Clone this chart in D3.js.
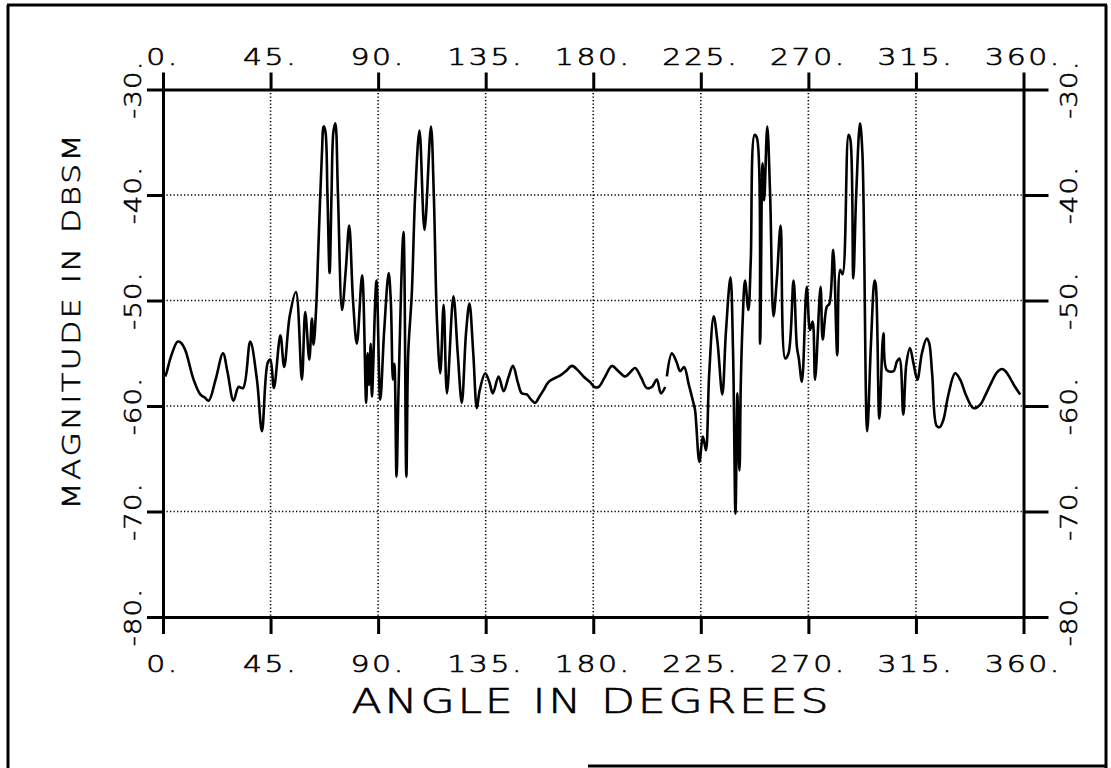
<!DOCTYPE html>
<html>
<head>
<meta charset="utf-8">
<script src="https://cdn.jsdelivr.net/npm/d3@7"></script>
<style>
  body { margin: 0; background: #fff; }
  svg text { font-family: "DejaVu Sans", sans-serif; font-weight: 200; fill: #000; stroke: #000; stroke-width: 0.6px; }
</style>
</head>
<body>
<svg id="chart" width="1111" height="768"></svg>
<script>
// angle ticks and magnitude ticks
var angleTicks = [0, 45, 90, 135, 180, 225, 270, 315, 360];
var dbTicks = [-30, -40, -50, -60, -70, -80];

// first trace (0 .. 210 deg)
var angle1 = [0.9, 1.4, 3.5, 6.1, 7.5, 9.3, 12.8, 15.6, 17.5, 19.1, 22, 25.1, 27, 29.5, 31.6, 33.5, 36.5, 39.3, 41.4,
  43.8, 44.9, 46.4, 49.1, 50.7, 53, 55.6, 58.1, 59.5, 61.2, 62.3, 63.0, 64.1, 65, 66.5, 67.2, 67.9, 68.8, 69.7,
  70.5, 71.3, 72.1, 73.2, 74.9, 76.5, 77.9, 79.5, 81.1, 83.3, 85.0, 85.6, 86.2, 86.9, 87.4, 89.3, 90.9, 92.5,
  94.4, 95.3, 96.2, 96.8, 97.7, 98.5, 100.6, 101.8, 102.6, 104.1, 105.5, 107.3, 109.4, 112.1, 113.3, 114.6,
  116.0, 117.4, 118.8, 121.5, 123.3, 125.0, 126.8, 128.2, 129.8, 131.3, 132.5, 134.8, 136.5, 138.0, 140.4,
  142.5, 144.5, 146.4, 148.5, 150.1, 152.2, 154, 155.7, 157.5, 159.2, 161, 162.7, 164.5, 166.2, 168.5, 171.1,
  173.5, 175.9, 178.5, 180.5, 182.2, 185, 187.8, 190.5, 193.4, 195.5, 197.5, 200, 202.4, 204.5, 206.6, 208.3, 210.1];
var db1 = [-57.2, -56.9, -55.2, -53.9, -54.0, -54.7, -57.5, -58.9, -59.2, -59.5, -57.5, -55.0, -56.8, -59.5, -58.2, -58.3, -53.9, -57.5, -62.4,
  -55.9, -55.6, -58.3, -53.3, -56.3, -51.5, -49.2, -57.5, -51.1, -55.6, -51.7, -54.2, -50.6, -45, -36, -33.5, -33.9, -40, -47.4,
  -40, -34, -33.2, -40, -50.9, -47, -42.9, -50, -54.1, -47.6, -59.7, -55, -58, -54.1, -59.1, -48.1, -59.4, -53,
  -47.4, -50, -57.5, -56, -66.7, -58.8, -43.5, -66.7, -55, -49.3, -40, -33.9, -43.3, -33.5, -40, -51.8,
  -56.9, -50.4, -58.8, -49.6, -55, -59.7, -53, -50.3, -55, -60.2, -58.5, -56.9, -57.7, -58.8, -57.2,
  -58.6, -57.3, -56.2, -57.8, -58.8, -58.9, -59.4, -59.7, -59.1, -58.5, -57.8, -57.5, -57.3, -57.1, -56.7, -56.2,
  -56.6, -57.2, -57.7, -58.2, -58.2, -57.2, -56.2, -56.7, -57.2, -56.8, -56.4, -57.3, -58.3, -58.2, -57.5, -58.8, -58.2];

// second trace (211 .. 359 deg)
var angle2 = [210.8, 212.9, 214.8, 216.4, 218.0, 220, 221.9, 222.6, 224.4, 225.8, 226.5, 227.2, 228.5, 230.4, 232, 234.0,
  235.5, 237.4, 238.5, 239.5, 240.3, 240.8, 241.2, 241.7, 242.5, 243.5, 244.9, 245.9, 247.5, 248.5, 249.8, 250.8,
  251.5, 252.8, 254, 255.4, 256.8, 258.4, 260.3, 261.7, 263.8, 265.2, 266, 267.3, 269.3, 270.7, 271.8, 272.8,
  275.1, 276.0, 277.7, 278.8, 280.4, 282.1, 283.3, 284.3, 286.8, 287.6, 288.8, 290, 291.6, 292.6, 294.6, 296.2,
  297.7, 298.2, 299.7, 301.4, 302.8, 305.6, 307, 308.1, 309.7, 311, 312.5, 314, 315.6, 317.5, 319.5, 320.5,
  321.8, 323.7, 325, 326.5, 328.5, 331.4, 333.5, 336, 339.0, 341.8, 344, 346.5, 349, 350.9, 352.5, 354.5, 356.5, 358.6];
var db2 = [-57.2, -55.0, -55.8, -56.7, -56.3, -58, -59.7, -60.4, -65.3, -62.9, -63.5, -64.2, -57, -51.5, -54, -58.9,
  -53, -47.8, -55, -70.2, -58.8, -64, -66.1, -58.2, -52, -48.1, -50.9, -46.2, -34.3, -34.6, -54.1, -37,
  -40.5, -33.5, -40, -51.5, -48, -42.9, -55.5, -55.0, -48.1, -54.4, -55.5, -57.7, -48.7, -52.8, -52, -57.5,
  -48.7, -53.7, -50.6, -50.3, -45.2, -55.2, -47.1, -47.5, -34.3, -34.8, -47.9, -40, -33.2, -36, -62.4, -54,
  -48.1, -48.5, -61.2, -53.1, -56.6, -56.7, -55.8, -55.5, -60.8, -56, -54.5, -56, -57.5, -55, -53.6, -54,
  -57, -61.9, -62, -61.3, -59, -56.9, -57.5, -59, -60.2, -59.9, -59, -57.8, -56.8, -56.5, -56.7, -57.4, -58.2, -58.9];

var svg = d3.select("#chart");
svg.append("rect").attr("width", 1111).attr("height", 768).attr("fill", "#fff");

var x = d3.scaleLinear().domain([0, 360]).range([163, 1023.5]);
var y = d3.scaleLinear().domain([-30, -80]).range([89.5, 617]);

// outer frame
var frame = svg.append("g").attr("stroke", "#000").attr("stroke-width", 3);
frame.append("line").attr("x1", 7).attr("y1", 5).attr("x2", 1107).attr("y2", 5);
frame.append("line").attr("x1", 8).attr("y1", 5).attr("x2", 8).attr("y2", 768);
frame.append("line").attr("x1", 1106).attr("y1", 5).attr("x2", 1106).attr("y2", 768);
frame.append("line").attr("x1", 588).attr("y1", 766).attr("x2", 1106).attr("y2", 766);

// dotted grid
var grid = svg.append("g").attr("stroke", "#000").attr("stroke-width", 1.6)
  .attr("stroke-dasharray", "1.3,2.2");
grid.selectAll(".gx").data(angleTicks.slice(1, -1)).join("line")
  .attr("x1", d => x(d)).attr("x2", d => x(d)).attr("y1", y(-30)).attr("y2", y(-80));
grid.selectAll(".gy").data(dbTicks.slice(1, -1)).join("line")
  .attr("x1", x(0)).attr("x2", x(360)).attr("y1", d => y(d)).attr("y2", d => y(d));

// axes
function styleAxis(g) {
  g.select(".domain").attr("stroke-width", 3);
  g.selectAll(".tick line").attr("stroke-width", 3);
  g.selectAll(".tick text").remove();
}
svg.append("g").attr("transform", "translate(0," + y(-80) + ")")
  .call(d3.axisBottom(x).tickValues(angleTicks).tickSize(17).tickSizeOuter(0)).call(styleAxis);
svg.append("g").attr("transform", "translate(0," + y(-30) + ")")
  .call(d3.axisTop(x).tickValues(angleTicks).tickSize(17).tickSizeOuter(0)).call(styleAxis);
svg.append("g").attr("transform", "translate(" + x(0) + ",0)")
  .call(d3.axisLeft(y).tickValues(dbTicks).tickSize(16).tickSizeOuter(0)).call(styleAxis);
svg.append("g").attr("transform", "translate(" + x(360) + ",0)")
  .call(d3.axisRight(y).tickValues(dbTicks).tickSize(25).tickSizeOuter(0)).call(styleAxis);

// tick labels (wide plotter-style lettering)
var fmt = d => d + ".";
svg.selectAll(".xb").data(angleTicks).join("text")
  .attr("transform", d => "translate(" + x(d) + ",672) scale(1.3,1)")
  .attr("text-anchor", "middle").attr("font-size", 23).attr("letter-spacing", 2).text(fmt);
svg.selectAll(".xt").data(angleTicks).join("text")
  .attr("transform", d => "translate(" + x(d) + ",65) scale(1.3,1)")
  .attr("text-anchor", "middle").attr("font-size", 23).attr("letter-spacing", 2).text(fmt);
svg.selectAll(".yl").data(dbTicks).join("text")
  .attr("transform", d => "translate(141," + y(d) + ") rotate(-90) scale(1.2,1)")
  .attr("text-anchor", "middle").attr("font-size", 23).attr("letter-spacing", 1).text(fmt);
svg.selectAll(".yr").data(dbTicks).join("text")
  .attr("transform", d => "translate(1077," + y(d) + ") rotate(-90) scale(1.2,1)")
  .attr("text-anchor", "middle").attr("font-size", 23).attr("letter-spacing", 1).text(fmt);

// axis titles
svg.append("text").attr("transform", "translate(590,713) scale(1.3,1)").attr("text-anchor", "middle")
  .attr("font-size", 34).attr("textLength", 477 / 1.3).attr("lengthAdjust", "spacing")
  .text("ANGLE IN DEGREES");
svg.append("text").attr("transform", "translate(80,322) rotate(-90) scale(1.25,1)")
  .attr("text-anchor", "middle").attr("font-size", 25).attr("textLength", 375 / 1.25).attr("lengthAdjust", "spacing")
  .text("MAGNITUDE IN DBSM");

// traces
var line = d3.line().x(d => x(d[0])).y(d => y(d[1])).curve(d3.curveCatmullRom.alpha(0.5));
[d3.zip(angle1, db1), d3.zip(angle2, db2)].forEach(seg => {
  svg.append("path").attr("d", line(seg)).attr("fill", "none")
    .attr("stroke", "#000").attr("stroke-width", 2.6).attr("stroke-linejoin", "round");
});
</script>
</body>
</html>
